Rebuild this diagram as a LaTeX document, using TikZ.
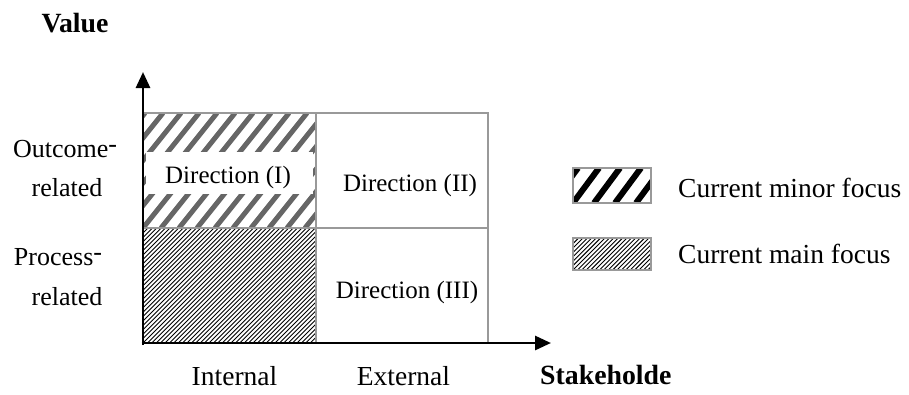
\documentclass[tikz,border=0pt]{standalone}
\usepackage{fontspec}
\setmainfont{Liberation Serif}
\usetikzlibrary{arrows.meta}
\definecolor{gridgray}{HTML}{999999}
\definecolor{hatchgray}{HTML}{666666}
\newcommand{\rdash}{\raisebox{0.17em}{-}}
\begin{document}
\begin{tikzpicture}[x=1pt,y=-1pt,
  lbl/.style={font=\fontsize{25}{30}\selectfont, inner sep=0pt, anchor=base},
  sidelbl/.style={font=\fontsize{26}{31}\selectfont, inner sep=0pt, anchor=base},
  axlbl/.style={font=\fontsize{27.5}{33}\selectfont, inner sep=0pt, anchor=base},
  boldlbl/.style={font=\fontsize{27.8}{33}\selectfont\bfseries, inner sep=0pt, anchor=base},
  gridline/.style={draw=gridgray, line width=1.5pt},
  axis/.style={line width=2.8pt, -{Triangle[length=16pt,width=14pt]}},
  legendbox/.style={draw=gridgray, line width=1.2pt, minimum width=78pt, minimum height=35pt, inner sep=0pt},
]
\useasboundingbox (0,0) rectangle (909,394);

% minor focus hatch (Direction I cell)
\begin{scope}
  \clip (143,113) rectangle (316,228);
  \foreach \i in {-8,...,12} \draw[hatchgray, line width=5pt] (143+\i*18,228) -- ++(92,-115);
\end{scope}
\fill[white] (146,152) rectangle (313,194);

% main focus hatch
\begin{scope}
  \clip (143,228) rectangle (316,343);
  \foreach \i in {-30,...,45} \draw[black, line width=0.9pt] (143+\i*4.4,343) -- ++(115,-115);
\end{scope}

% grid
\draw[gridline] (143,113) rectangle (488,343);
\draw[gridline] (143,228) -- (488,228);
\draw[gridline] (316,113) -- (316,343);

% axes
\coordinate (O) at (143,345);
\coordinate (Ox) at (141.6,343);
\coordinate (ytip) at (143,72);
\coordinate (xtip) at (551,343);
\draw[axis] (O) -- (ytip);
\draw[axis] (Ox) -- (xtip);

% legend hatches
\begin{scope}
  \clip (573,168) rectangle (651,203);
  \foreach \i in {-3,...,5} \draw[black, line width=6pt] (573+\i*21,203) -- ++(26,-35);
\end{scope}
\begin{scope}
  \clip (573,238) rectangle (651,270);
  \foreach \i in {-10,...,20} \draw[black, line width=0.9pt] (573+\i*4.4,270) -- ++(32,-32);
\end{scope}
\node[legendbox] (minorbox) at (612,185.5) {};
\node[legendbox, minimum height=32pt] (mainbox) at (612,254) {};

% labels
\node[boldlbl] (value) at (75,32) {Value};
\node[sidelbl] (outcome) at (65,157) {Outcome\rdash};
\node[sidelbl] (orel) at (67,196) {related};
\node[sidelbl] (process) at (58,265) {Process\rdash};
\node[sidelbl] (prel) at (67,305) {related};
\node[lbl] (d1) at (228,183) {Direction (I)};
\node[lbl] (d2) at (410,191) {Direction (II)};
\node[lbl] (d3) at (407,298) {Direction (III)};
\node[axlbl] (int) at (234.5,385) {Internal};
\node[axlbl] (ext) at (403.5,385) {External};
\node[boldlbl, anchor=base west] (stake) at (540,384) {Stakeholde};
\node[axlbl, anchor=base west] (minor) at (678,197) {Current minor focus};
\node[axlbl, anchor=base west] (main) at (678,263) {Current main focus};
\end{tikzpicture}
\end{document}
